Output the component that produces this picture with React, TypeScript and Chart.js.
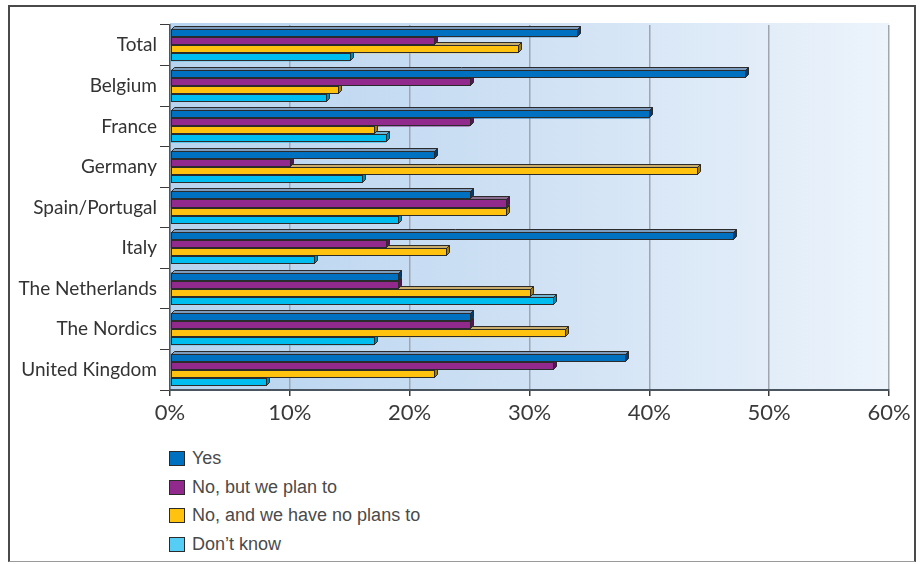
import React, { useEffect, useRef } from "react";
import { Chart, registerables } from "chart.js";

Chart.register(...registerables);

const categories = [
  "Total",
  "Belgium",
  "France",
  "Germany",
  "Spain/Portugal",
  "Italy",
  "The Netherlands",
  "The Nordics",
  "United Kingdom",
];

const seriesNames = ["Yes", "No, but we plan to", "No, and we have no plans to", "Don\u2019t know"];

const yes = [34, 48, 40, 22, 25, 47, 19, 25, 38];
const noButPlan = [22, 25, 25, 10, 28, 18, 19, 25, 32];
const noPlans = [29, 14, 17, 44, 28, 23, 30, 33, 22];
const dontKnow = [15, 13, 18, 16, 19, 12, 32, 17, 8];

const xTicks = [0, 10, 20, 30, 40, 50, 60];

// front, top and side face colours for each series
const frontColors = ["#0070c0", "#922a8e", "#ffc20e", "#00bdf0"];
const topColors = ["#7d9cbd", "#8a6a8e", "#c9ad6c", "#72b6d2"];
const sideColors = ["#003d6e", "#5a1258", "#a67c00", "#0089b0"];
const legendColors = ["#0070c0", "#922a8e", "#ffc20e", "#55cdf5"];

const DEPTH = 3;

const plotBackground = {
  id: "plotBackground",
  beforeDraw(chart: any) {
    const { ctx, chartArea: a } = chart;
    ctx.save();
    const g = ctx.createLinearGradient(a.left, 0, a.right, 0);
    g.addColorStop(0, "#b6d3ef");
    g.addColorStop(0.5, "#cfe1f4");
    g.addColorStop(1, "#ecf3fb");
    ctx.fillStyle = g;
    ctx.fillRect(a.left, a.top - 2, a.right - a.left, a.bottom - a.top + 2);
    ctx.restore();
  },
};

// Repaints the bars with a shallow extruded look: top face, side face, front face.
// Drawn from the last series to the first so upper bars cover the faces below them.
const extrudedBars = {
  id: "extrudedBars",
  afterDatasetsDraw(chart: any) {
    const ctx = chart.ctx;
    ctx.save();
    ctx.lineWidth = 1;
    ctx.strokeStyle = "#2b2b2b";
    ctx.lineJoin = "miter";
    for (let di = chart.data.datasets.length - 1; di >= 0; di--) {
      const meta = chart.getDatasetMeta(di);
      meta.data.forEach((el: any) => {
        const p = el.getProps(["x", "y", "base", "height"], true);
        const x0 = Math.round(p.base) + 0.5;
        const x1 = Math.round(p.x) + 0.5;
        const top = Math.round(p.y - p.height / 2) + 0.5;
        const bot = Math.round(p.y + p.height / 2) - 0.5;
        const d = DEPTH;
        // top face
        ctx.beginPath();
        ctx.moveTo(x0, top);
        ctx.lineTo(x0 + d, top - d);
        ctx.lineTo(x1 + d, top - d);
        ctx.lineTo(x1, top);
        ctx.closePath();
        ctx.fillStyle = topColors[di];
        ctx.fill();
        ctx.stroke();
        // side face
        ctx.beginPath();
        ctx.moveTo(x1, top);
        ctx.lineTo(x1 + d, top - d);
        ctx.lineTo(x1 + d, bot - d);
        ctx.lineTo(x1, bot);
        ctx.closePath();
        ctx.fillStyle = sideColors[di];
        ctx.fill();
        ctx.stroke();
        // front face
        ctx.fillStyle = frontColors[di];
        ctx.fillRect(x0, top, x1 - x0, bot - top);
        ctx.strokeRect(x0, top, x1 - x0, bot - top);
      });
    }
    ctx.restore();
  },
};

function BarChart() {
  const ref = useRef<HTMLCanvasElement>(null);
  useEffect(() => {
    if (!ref.current) return;
    const values = [yes, noButPlan, noPlans, dontKnow];
    const chart = new Chart(ref.current, {
      type: "bar",
      data: {
        labels: categories,
        datasets: seriesNames.map((name, i) => ({
          label: name,
          data: values[i],
          backgroundColor: frontColors[i],
          borderWidth: 0,
          categoryPercentage: 0.79,
          barPercentage: 1,
        })),
      },
      options: {
        indexAxis: "y",
        responsive: false,
        animation: false,
        events: [],
        layout: { padding: { left: 0, right: 33, top: 25, bottom: 0 } },
        plugins: {
          legend: { display: false },
          tooltip: { enabled: false },
        },
        scales: {
          x: {
            min: 0,
            max: 60,
            afterBuildTicks(scale: any) {
              scale.ticks = xTicks.map((v) => ({ value: v }));
            },
            afterFit(scale: any) {
              scale.height = 40;
            },
            grid: {
              color: "#9fa6ae",
              lineWidth: 1.5,
              tickColor: "#3a3a3a",
              tickLength: 6,
              drawTicks: true,
            },
            border: { display: true, color: "#4b5560", width: 2 },
            ticks: {
              color: "#3a3a3a",
              font: { family: "Lato", size: 22 },
              padding: 4,
              callback: (v: any) => `${v}%`,
            },
          },
          y: {
            afterFit(scale: any) {
              scale.width = 170;
            },
            grid: {
              offset: true,
              drawOnChartArea: false,
              drawTicks: true,
              tickLength: 10,
              color: "#3a3a3a",
              lineWidth: 1,
            },
            border: { display: true, color: "#4b5560", width: 1.5 },
            ticks: {
              color: "#333333",
              font: { family: "Lato", size: 19 },
              padding: 3,
            },
          },
        },
      },
      plugins: [plotBackground, extrudedBars],
    });
    return () => chart.destroy();
  }, []);
  return (
    <canvas
      ref={ref}
      width={922}
      height={430}
      style={{ position: "absolute", left: 0, top: 0, width: 922, height: 430 }}
    />
  );
}

export default function App() {
  return (
    <div style={{ position: "absolute", left: 0, top: 0, width: 922, height: 564, background: "#ffffff" }}>
      <div
        style={{
          position: "absolute",
          left: 8,
          top: 5,
          width: 908,
          height: 557,
          borderLeft: "2px solid #4a4a4a",
          borderTop: "2px solid #4a4a4a",
          borderRight: "2px solid #4a4a4a",
          borderBottom: "1px solid #9a9a9a",
          boxSizing: "border-box",
        }}
      />
      <BarChart />
      <div style={{ position: "absolute", left: 169, top: 451 }}>
        {seriesNames.map((name, i) => (
          <div
            key={name}
            style={{
              display: "flex",
              alignItems: "center",
              height: 15,
              marginBottom: 13.6,
              fontFamily: "'Liberation Sans', Arial, sans-serif",
              fontSize: 18,
              color: "#4a4a4a",
              whiteSpace: "nowrap",
            }}
          >
            <span
              style={{
                display: "inline-block",
                width: 16,
                height: 15,
                boxSizing: "border-box",
                border: "1.5px solid #2b2b2b",
                background: legendColors[i],
                marginRight: 7,
              }}
            />
            <span>{name}</span>
          </div>
        ))}
      </div>
    </div>
  );
}
